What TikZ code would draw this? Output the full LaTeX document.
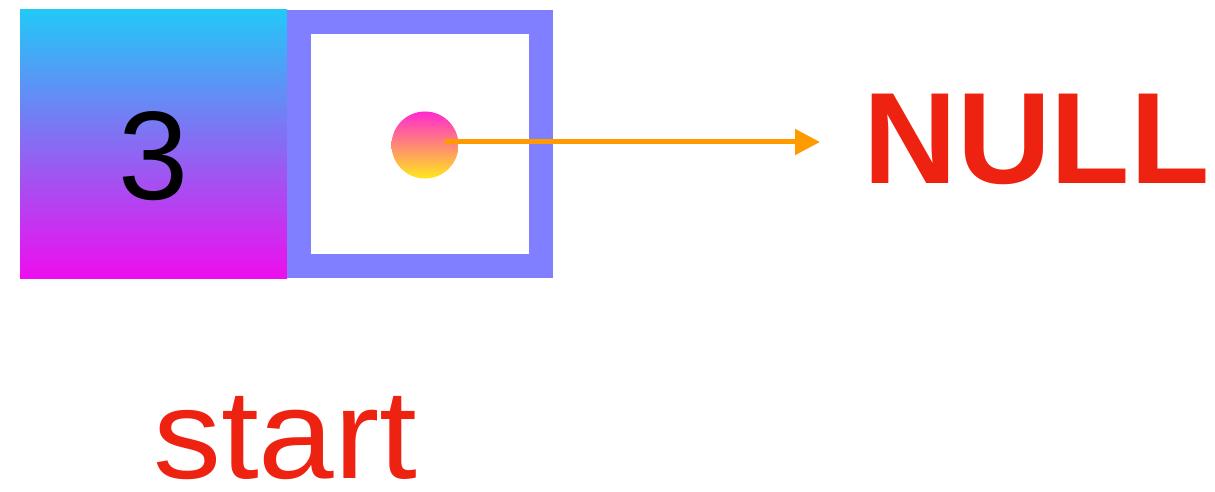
\documentclass[tikz,border=0pt]{standalone}
\usepackage{fontspec}
\setmainfont{Liberation Sans}
\newfontfamily\widesans[FakeStretch=1.07]{Liberation Sans}
\usetikzlibrary{positioning, arrows.meta}

\definecolor{cellcyan}{HTML}{22C8F8}
\definecolor{cellpink}{HTML}{EE0EEE}
\definecolor{linkblue}{HTML}{7F7FFF}
\definecolor{dotpink}{HTML}{FF2AD0}
\definecolor{dotyellow}{HTML}{FFE81A}
\definecolor{ptrorange}{HTML}{FF9A00}
\definecolor{labelred}{HTML}{EE2211}

\tikzset{
  >={Triangle[length=25pt, width=25pt]},
  datacell/.style={
    rectangle,
    top color=cellcyan,
    bottom color=cellpink,
    minimum width=267pt,
    minimum height=268pt,
    inner sep=0pt,
    text height=112pt,
    font=\fontsize{126}{126}\selectfont},
  linkcell/.style={
    rectangle,
    draw=linkblue,
    line width=24pt,
    fill=white,
    minimum width=242pt,
    minimum height=244pt,
    inner sep=0pt},
  ptrdot/.style={
    circle,
    top color=dotpink,
    bottom color=dotyellow,
    minimum size=67pt,
    inner sep=0pt},
  pointer/.style={draw=ptrorange, line width=5pt, ->},
  nulltext/.style={
    text=labelred,
    inner sep=0pt,
    anchor=base west,
    font=\fontsize{130}{130}\bfseries\selectfont},
  nametext/.style={
    text=labelred,
    inner sep=0pt,
    anchor=base west,
    font=\fontsize{127}{127}\widesans},
}

\begin{document}
\begin{tikzpicture}[x=1pt, y=-1pt]
	\useasboundingbox (0,0) rectangle (1215,492);

	% the list node: data part and link part
	\node [datacell] (value) at (153.5,144) {3};
	\node [linkcell, right=0pt of value] (link) {};
	\node [ptrdot] (ptr) at (425,145) {};

	\node [nulltext] (null) at (863,183) {NULL};
	\node [nametext] (start) at (153,478) {start};

	\coordinate (tip) at (820,142);
	\draw [pointer] ([xshift=20pt, yshift=3pt]ptr.center) -- (tip);
\end{tikzpicture}
\end{document}
